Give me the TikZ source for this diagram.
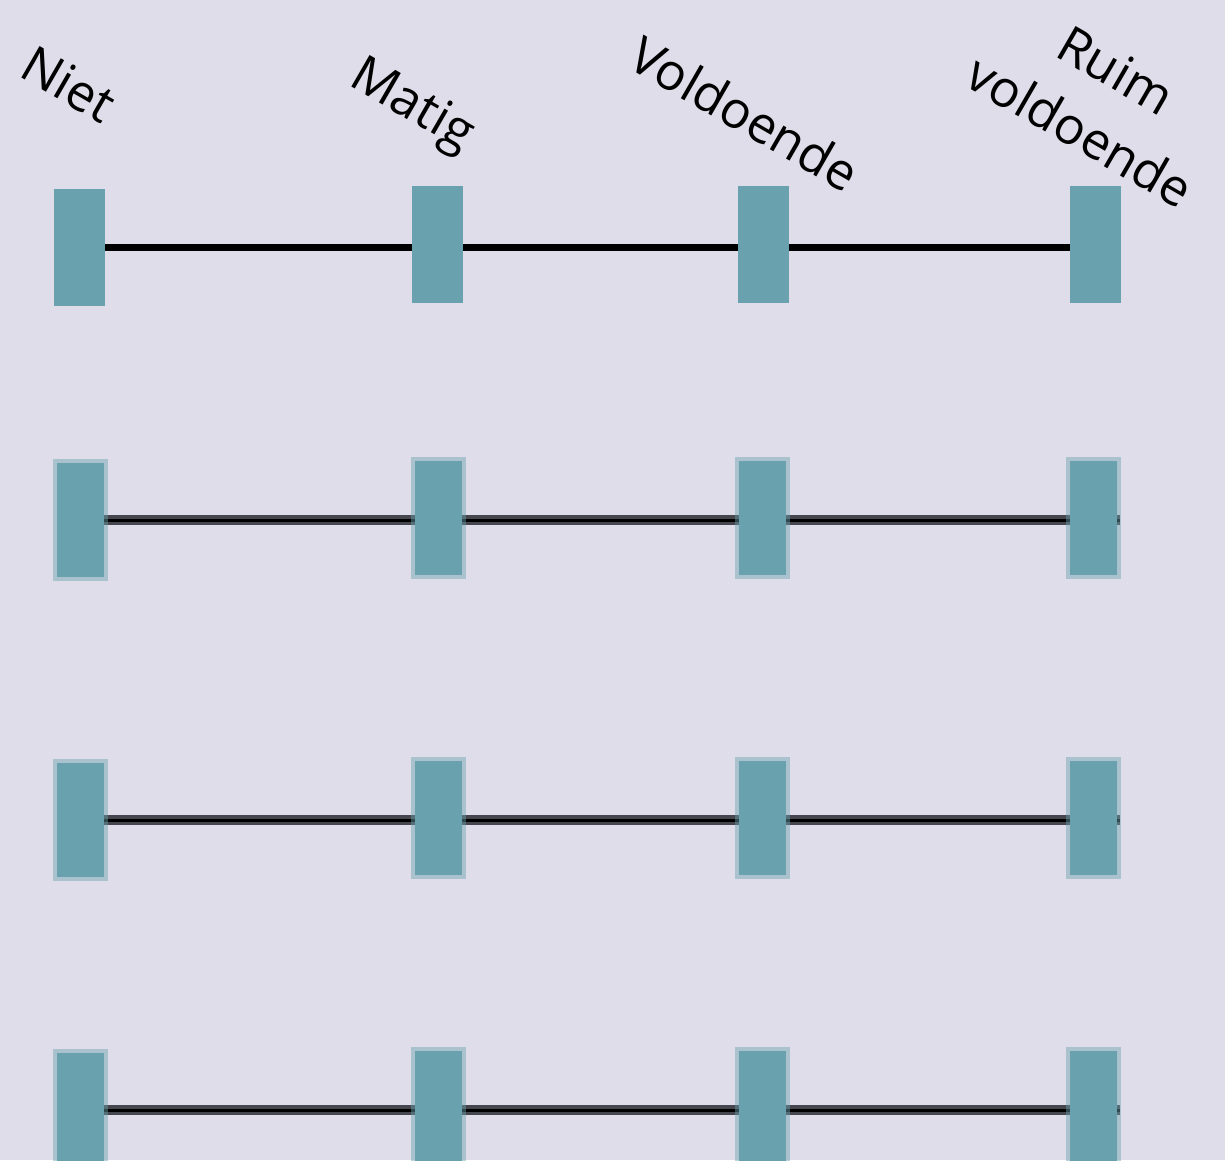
\documentclass[tikz,border=0pt]{standalone}
\usepackage{fontspec}
\setmainfont{Open Sans}
\usetikzlibrary{backgrounds}
\definecolor{bg}{HTML}{DFDDE9}
\definecolor{tealbar}{HTML}{69A2AE}
\definecolor{linegray}{HTML}{46464E}
\begin{document}
\begin{tikzpicture}[x=1pt,y=-1pt,
  lab/.style={inner sep=0pt, outer sep=0pt, rotate=-30, font=\fontsize{51}{60}\selectfont},
  bartop/.style={fill=tealbar, inner sep=0pt, outer sep=0pt, minimum width=51pt, minimum height=117pt},
  barrim/.style={fill=tealbar, draw=tealbar, draw opacity=0.45, line width=8pt, inner sep=0pt, outer sep=0pt, minimum width=47pt, minimum height=114pt},
  thickline/.style={line width=7pt, black},
  dblline/.style={draw=linegray, double=black, double distance=3pt, line width=3.5pt}]
\clip (0,0) rectangle (1225,1160);
\useasboundingbox (0,0) rectangle (1225,1160);
% labels
\node[lab, anchor=base west] (lniet) at (17,75.5) {Niet};
\node[lab, anchor=base west] (lmatig) at (347,84.5) {Matig};
\node[lab, anchor=base west] (lvold) at (625,66) {Voldoende};
\node[lab, anchor=base] (lruim) at (1107,86) {Ruim};
\node[lab, anchor=base] (lruimb) at (1071,147) {voldoende};
% row 1
\node[bartop] (r11) at (79.5,247.5) {};
\node[bartop] (r12) at (437.5,244.5) {};
\node[bartop] (r13) at (763.5,244.5) {};
\node[bartop] (r14) at (1095.5,244.5) {};
% row 2
\node[barrim] (r21) at (80.5,520) {};
\node[barrim] (r22) at (438,518) {};
\node[barrim] (r23) at (762.5,518) {};
\node[barrim] (r24) at (1093.5,518) {};
% row 3
\node[barrim] (r31) at (80.5,820) {};
\node[barrim] (r32) at (438,818) {};
\node[barrim] (r33) at (762.5,818) {};
\node[barrim] (r34) at (1093.5,818) {};
% row 4
\node[barrim] (r41) at (80.5,1110) {};
\node[barrim] (r42) at (438,1108) {};
\node[barrim] (r43) at (762.5,1108) {};
\node[barrim] (r44) at (1093.5,1108) {};
\begin{scope}[on background layer]
  \fill[bg] (0,0) rectangle (1225,1160);
  \draw[thickline] ([yshift=0.5pt]r11.center) -- ([yshift=0.5pt]r11.center -| r14.center);
  \draw[dblline] (r21.center) -- ([xshift=3pt]r21.center -| r24.east);
  \draw[dblline] (r31.center) -- ([xshift=3pt]r31.center -| r34.east);
  \draw[dblline] (r41.center) -- ([xshift=3pt]r41.center -| r44.east);
\end{scope}
\end{tikzpicture}
\end{document}
